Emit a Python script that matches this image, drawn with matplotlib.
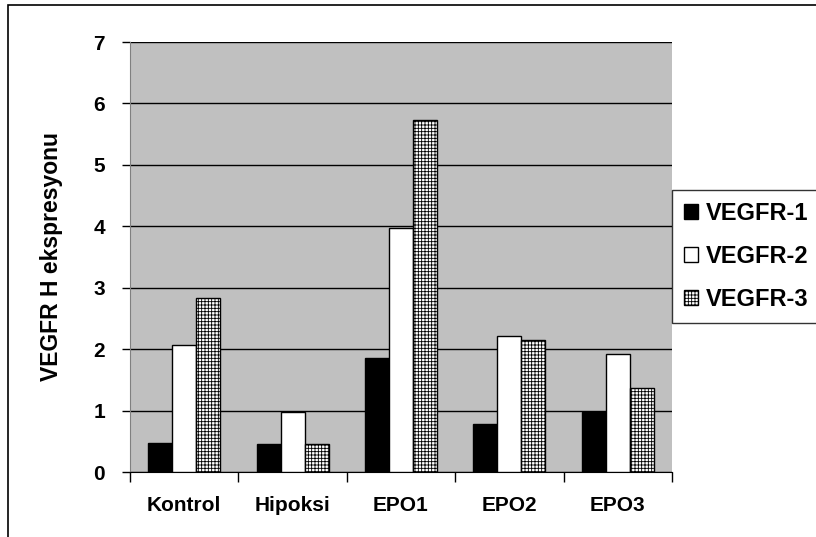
import matplotlib
matplotlib.use('Agg')
import matplotlib.pyplot as plt
import numpy as np
from matplotlib.patches import Rectangle

plt.rcParams['font.family'] = ['Liberation Sans', 'DejaVu Sans']
plt.rcParams['font.weight'] = 'bold'
plt.rcParams['hatch.linewidth'] = 0.6

categories = ['Kontrol', 'Hipoksi', 'EPO1', 'EPO2', 'EPO3']
series_names = ['VEGFR-1', 'VEGFR-2', 'VEGFR-3']
vegfr1 = [0.47, 0.45, 1.86, 0.78, 0.98]
vegfr2 = [2.07, 0.97, 3.97, 2.21, 1.92]
vegfr3 = [2.83, 0.45, 5.73, 2.15, 1.37]
y_ticks = [0, 1, 2, 3, 4, 5, 6, 7]

W, H = 816, 537
fig = plt.figure(figsize=(W / 100, H / 100), dpi=100)
# plot area in pixels: left 130, right 672, top 42, bottom 472
ax = fig.add_axes([130 / W, 1 - 472 / H, (672 - 130) / W, (472 - 42) / H])
ax.set_facecolor('#c0c0c0')

# outer chart frame (only top and left edges visible in the crop)
fig.patches.append(Rectangle((8 / W, -0.1), 1.2, 1 - 5 / H + 0.1,
                             transform=fig.transFigure, fill=False,
                             edgecolor='black', lw=1.2, zorder=0))

x = np.arange(len(categories))
bw = 0.222
styles = [dict(color='black', edgecolor='black'),
          dict(color='white', edgecolor='black'),
          dict(facecolor='white', edgecolor='black', hatch='+++++')]
for i, (vals, st) in enumerate(zip([vegfr1, vegfr2, vegfr3], styles)):
    ax.bar(x + (i - 1) * bw, vals, bw, label=series_names[i], lw=1.0,
           zorder=3, **st)

ax.set_xlim(-0.5, len(categories) - 0.5)
ax.set_ylim(0, 7)
ax.set_yticks(y_ticks)
ax.set_yticklabels([str(t) for t in y_ticks], fontsize=15, fontweight='bold')
ax.yaxis.grid(True, color='black', lw=1.0, zorder=1)
ax.set_axisbelow(True)
ax.set_xticks(x)
ax.set_xticklabels(categories, fontsize=15, fontweight='bold')
ax.set_xticks(np.arange(len(categories) + 1) - 0.5, minor=True)
ax.tick_params(axis='x', which='major', length=0, pad=17)
ax.tick_params(axis='x', which='minor', length=7, width=1, direction='out')
ax.tick_params(axis='y', length=6, width=1, direction='out', pad=12)
for s in ['top', 'right']:
    ax.spines[s].set_visible(False)
ax.spines['left'].set_color('#808080')
ax.spines['bottom'].set_color('black')

ax.set_ylabel('VEGFR H ekspresyonu', fontsize=16.5, fontweight='bold', labelpad=22)

# legend box runs off the right edge of the crop, as in the reference
leg = fig.legend(loc='upper left',
                 bbox_to_anchor=(672 / W, 1 - 190 / H, 160 / W, 0.0),
                 mode='expand',
                 fontsize=17, frameon=True, fancybox=False, edgecolor='black',
                 handlelength=0.6, handleheight=0.6, handletextpad=0.35,
                 borderpad=0.5, labelspacing=0.85, borderaxespad=0)
leg.get_frame().set_linewidth(1.0)
for t in leg.get_texts():
    t.set_fontweight('bold')

fig.savefig('out.png', dpi=100)
